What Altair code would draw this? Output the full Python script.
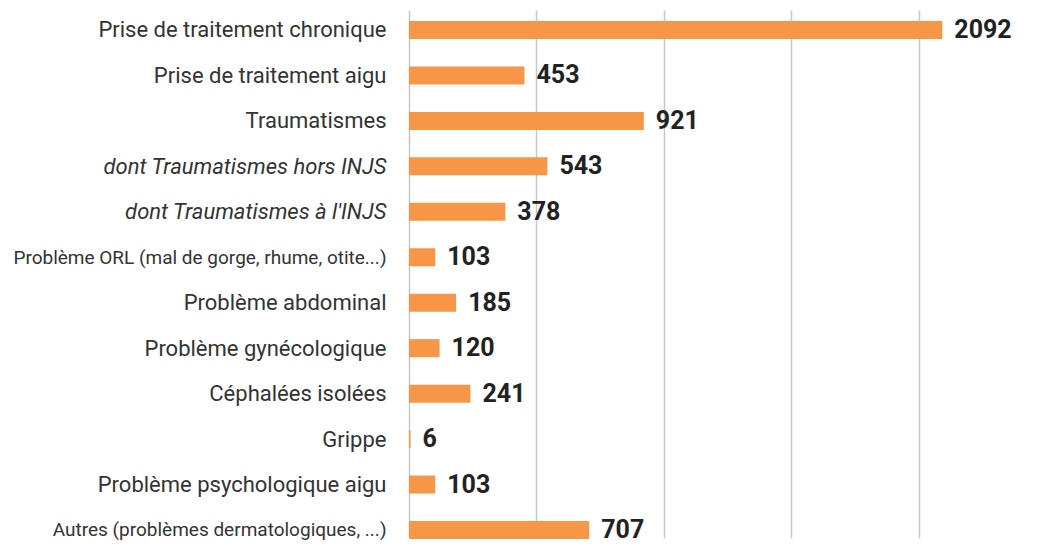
import altair as alt
import pandas as pd

categories = [
    "Prise de traitement chronique",
    "Prise de traitement aigu",
    "Traumatismes",
    "dont Traumatismes hors INJS",
    "dont Traumatismes à l'INJS",
    "Problème ORL (mal de gorge, rhume, otite...)",
    "Problème abdominal",
    "Problème gynécologique",
    "Céphalées isolées",
    "Grippe",
    "Problème psychologique aigu",
    "Autres (problèmes dermatologiques, ...)",
]
values = [2092, 453, 921, 543, 378, 103, 185, 120, 241, 6, 103, 707]
grid_values = [0, 500, 1000, 1500, 2000]

df = pd.DataFrame({"cat": categories, "val": values})

FONT = "Roboto"

y = alt.Y(
    "cat:N",
    sort=categories,
    title=None,
    scale=alt.Scale(type="point", padding=0.308, align=0.714),
    axis=alt.Axis(
        domain=False,
        ticks=False,
        grid=False,
        labelPadding=23,
        labelFont=FONT,
        labelColor="#333333",
        labelLimit=420,
        minExtent=401,
        maxExtent=401,
        labelFontSize={"condition": {"test": "indexof(datum.value, '(') >= 0", "value": 19}, "value": 22},
        labelFontStyle={"condition": {"test": "indexof(datum.value, 'dont') === 0", "value": "italic"}, "value": "normal"},
    ),
)

x = alt.X(
    "val:Q",
    title=None,
    scale=alt.Scale(domain=[0, 2432], nice=False, zero=True),
    axis=alt.Axis(
        values=grid_values,
        labels=False,
        ticks=False,
        domain=False,
        grid=True,
        gridColor="#c8c8c8",
        gridWidth=1.5,
        minExtent=0,
        maxExtent=0,
    ),
)

bars = alt.Chart(df).mark_bar(size=18, color="#F79646").encode(x=x, y=y)
labels = alt.Chart(df).mark_text(
    align="left", baseline="middle", dx=12, fontSize=25, fontWeight="bold", font=FONT, color="#222222"
).encode(x=x, y=y, text=alt.Text("val:Q"))

chart = (
    alt.layer(bars, labels)
    .properties(width=620, height=528, padding={"left": 0, "top": 2, "right": 0, "bottom": 0})
    .configure_view(stroke=None)
)

chart.save("out.html", embed_options={"renderer": "svg", "actions": False})
